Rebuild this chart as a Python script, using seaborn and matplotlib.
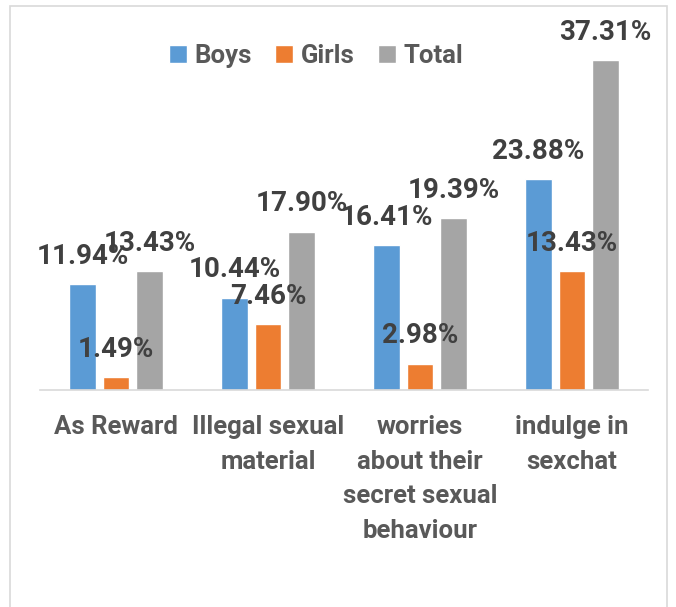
import pandas as pd
import numpy as np
import seaborn as sns
import matplotlib.pyplot as plt
from matplotlib.patches import Rectangle

categories = ["As Reward", "Illegal sexual\nmaterial",
              "worries\nabout their\nsecret sexual\nbehaviour", "indulge in\nsexchat"]
groups = ["Boys", "Girls", "Total"]
boys = [11.94, 10.44, 16.41, 23.88]
girls = [1.49, 7.46, 2.98, 13.43]
total = [13.43, 17.90, 19.39, 37.31]
colors = ["#5B9BD5", "#ED7D31", "#A5A5A5"]

df = pd.DataFrame({
    "category": categories * 3,
    "group": np.repeat(groups, len(categories)),
    "value": boys + girls + total,
})

sns.set_style("white")
plt.rcParams["font.family"] = ["Roboto", "DejaVu Sans"]
plt.rcParams["font.weight"] = "bold"

fig = plt.figure(figsize=(6.76, 6.07), dpi=100)
ax = fig.add_axes([40 / 676, 1 - 390 / 607, 608 / 676, 370 / 607])

sns.barplot(data=df, x="category", y="value", hue="group", hue_order=groups,
            palette=colors, width=0.66, gap=0.2, saturation=1, ax=ax,
            legend=True, errorbar=None)

# data labels
for cont, vals in zip(ax.containers, [boys, girls, total]):
    for bar, v in zip(cont, vals):
        ax.annotate(f"{v:.2f}%", (bar.get_x() + bar.get_width() / 2, bar.get_height()),
                    xytext=(0, 20), textcoords="offset points", ha="center", va="center",
                    fontsize=20, fontweight="bold", color="#404040")

ax.set_ylim(0, 370 / 8.845)
ax.set_xlim(-0.5, 3.5)
ax.set_yticks([])
ax.set_xlabel("")
ax.set_ylabel("")
for s in ["top", "left", "right"]:
    ax.spines[s].set_visible(False)
ax.spines["bottom"].set_color("#D9D9D9")
ax.spines["bottom"].set_linewidth(1.2)

ax.set_xticks(range(len(categories)))
ax.set_xticklabels(categories, fontsize=18.5, fontweight="bold", color="#595959",
                   linespacing=1.56, va="top")
ax.tick_params(axis="x", which="major", length=0, pad=18)
ax.set_xticks([-0.5, 0.5, 1.5, 2.5, 3.5], minor=True)
ax.tick_params(axis="x", which="minor", length=7, color="#D9D9D9", width=1.2)

leg = ax.legend(loc="center", bbox_to_anchor=(316 / 676, 1 - 56 / 607),
                bbox_transform=fig.transFigure, ncol=3, frameon=False,
                handlelength=0.7, handleheight=0.7, handletextpad=0.3,
                columnspacing=0.9, prop={"size": 18.5, "weight": "bold"})
for t in leg.get_texts():
    t.set_color("#595959")

fig.patches.append(Rectangle((10 / 676, -0.02), 657 / 676, 1.02 - 6 / 607,
                             transform=fig.transFigure, fill=False,
                             edgecolor="#D9D9D9", linewidth=1.2))

fig.savefig("out.png", dpi=100)
